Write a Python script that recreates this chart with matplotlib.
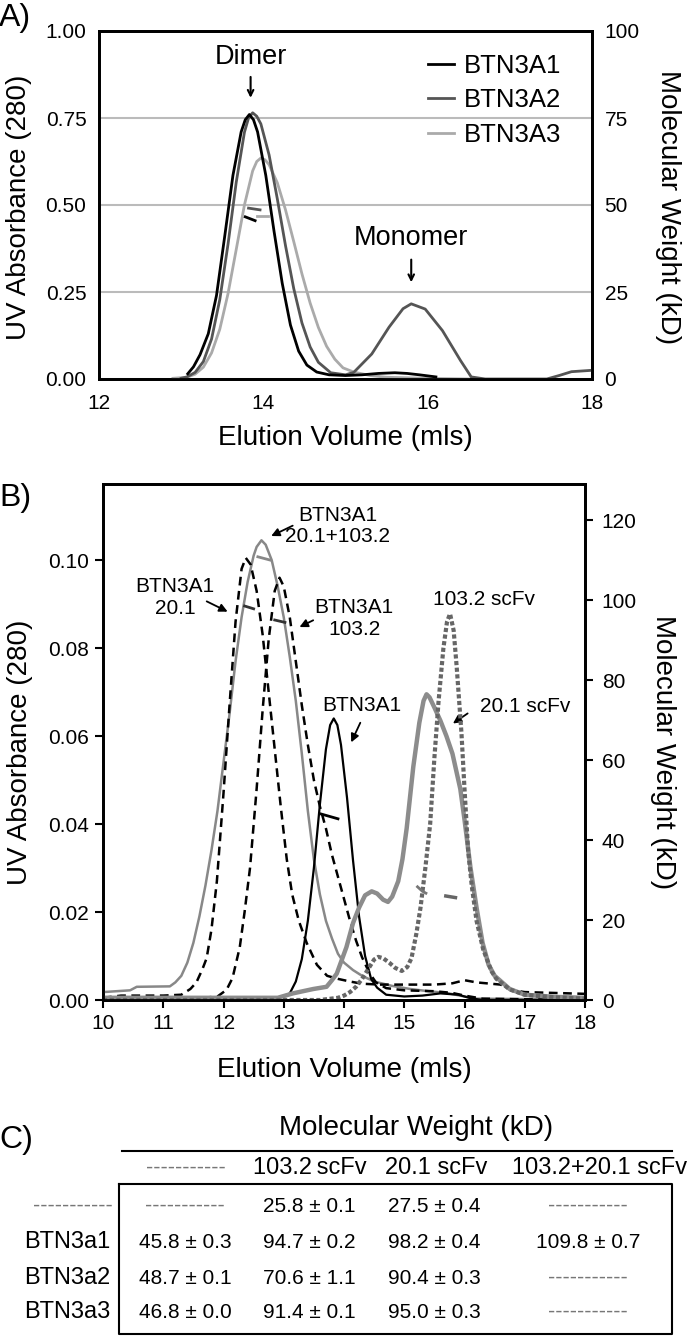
import matplotlib
matplotlib.use("Agg")
import matplotlib.pyplot as plt

plt.rcParams["font.family"] = ["Liberation Sans", "DejaVu Sans"]

# ---------------- panel A: BTN3A1/A2/A3 SEC traces ----------------
a1_vol = [13.08, 13.15, 13.23, 13.33, 13.43, 13.53, 13.63, 13.73, 13.78, 13.83, 13.88,
          13.93, 14.03, 14.13, 14.23, 14.33, 14.43, 14.53, 14.65, 14.8, 15.0, 15.2, 15.4,
          15.6, 15.75, 15.9, 16.1]
a1_abs = [0.015, 0.035, 0.07, 0.13, 0.24, 0.41, 0.585, 0.71, 0.745, 0.76, 0.745,
          0.71, 0.585, 0.425, 0.275, 0.155, 0.08, 0.04, 0.02, 0.012, 0.01, 0.012, 0.016,
          0.018, 0.016, 0.012, 0.006]

a2_vol = [13.0, 13.07, 13.17, 13.27, 13.37, 13.47, 13.57, 13.67, 13.77, 13.82, 13.87,
          13.92, 13.97, 14.07, 14.17, 14.27, 14.37, 14.47, 14.57, 14.67, 14.82, 15.0,
          15.1, 15.32, 15.53, 15.7, 15.8, 15.97, 16.18, 16.4, 16.53, 16.7, 17.45, 17.6,
          17.75, 18.0]
a2_abs = [0.002, 0.006, 0.019, 0.05, 0.115, 0.228, 0.387, 0.565, 0.709, 0.75, 0.765,
          0.755, 0.733, 0.644, 0.518, 0.383, 0.26, 0.161, 0.092, 0.048, 0.018, 0.012,
          0.019, 0.072, 0.149, 0.202, 0.216, 0.201, 0.139, 0.053, 0.006, 0.0, 0.0, 0.01,
          0.021, 0.025]

a3_vol = [12.9, 13.07, 13.17, 13.27, 13.37, 13.47, 13.57, 13.67, 13.77, 13.87, 13.92,
          13.97, 14.02, 14.07, 14.17, 14.27, 14.37, 14.47, 14.57, 14.67, 14.77, 14.87,
          14.97, 15.1, 15.3, 15.5, 16.0, 16.5]
a3_abs = [0.002, 0.005, 0.014, 0.034, 0.075, 0.143, 0.245, 0.372, 0.5, 0.598, 0.625,
          0.635, 0.63, 0.616, 0.564, 0.486, 0.395, 0.302, 0.218, 0.148, 0.094, 0.057,
          0.032, 0.02, 0.01, 0.005, 0.002, 0.0]

# molecular weight readout (kD) across the dimer peak
a1_mw_vol, a1_mw = [13.78, 13.90], [46.6, 45.5]
a2_mw_vol, a2_mw = [13.82, 13.96], [49.1, 48.6]
a3_mw_vol, a3_mw = [13.92, 14.06], [46.9, 46.9]

# ---------------- panel B: BTN3A1 with scFv fragments ----------------
b_a1_vol = [10.0, 12.9, 13.1, 13.2, 13.3, 13.4, 13.5, 13.6, 13.7, 13.77, 13.83, 13.89,
            13.95, 14.05, 14.15, 14.25, 14.35, 14.45, 14.55, 14.7, 15.0, 15.3, 15.6,
            15.9, 16.1, 16.3, 18.0]
b_a1_abs = [0.0003, 0.0003, 0.0015, 0.0042, 0.0093, 0.018, 0.03, 0.0445, 0.057, 0.0625,
            0.064, 0.0625, 0.058, 0.046, 0.0317, 0.019, 0.01, 0.0048, 0.0028, 0.0012,
            0.0008, 0.001, 0.0015, 0.0012, 0.0004, 0.0, 0.0]

b_201_vol = [10.0, 10.3, 11.0, 11.3, 11.45, 11.55, 11.65, 11.72, 11.8, 11.89, 12.0, 12.1,
             12.2, 12.3, 12.37, 12.45, 12.55, 12.65, 12.75, 12.85, 12.95, 13.05, 13.14,
             13.25, 13.38, 13.55, 13.72, 13.9, 14.1, 14.3, 14.6, 15.0, 15.5, 15.8, 16.0,
             16.2, 16.6, 16.8, 17.0, 18.0]
b_201_abs = [0.0005, 0.001, 0.001, 0.0012, 0.0025, 0.004, 0.007, 0.0095, 0.016, 0.027,
             0.047, 0.067, 0.086, 0.098, 0.1005, 0.099, 0.093, 0.083, 0.07, 0.057, 0.044,
             0.032, 0.024, 0.018, 0.013, 0.008, 0.0055, 0.0048, 0.0042, 0.0037, 0.0035,
             0.0035, 0.0035, 0.0038, 0.0045, 0.004, 0.0035, 0.0022, 0.0018, 0.0014]

b_1032_vol = [10.0, 11.5, 11.9, 12.05, 12.15, 12.27, 12.35, 12.44, 12.55, 12.65, 12.75,
              12.85, 12.93, 13.0, 13.1, 13.2, 13.3, 13.4, 13.5, 13.6, 13.7, 13.8, 13.9,
              14.0, 14.1, 14.2, 14.3, 14.42, 14.53, 14.7, 15.0, 15.5, 15.8, 16.0, 16.3, 18.0]
b_1032_abs = [0.0002, 0.0003, 0.0008, 0.0023, 0.005, 0.012, 0.02, 0.03, 0.048, 0.066,
              0.082, 0.093, 0.096, 0.094, 0.087, 0.077, 0.067, 0.058, 0.05, 0.044, 0.039,
              0.033, 0.028, 0.023, 0.018, 0.0135, 0.0097, 0.0062, 0.004, 0.0027, 0.0022,
              0.002, 0.0016, 0.001, 0.0003, 0.0]

b_both_vol = [10.0, 10.45, 10.56, 11.11, 11.2, 11.3, 11.4, 11.5, 11.6, 11.7, 11.8, 11.9,
              12.0, 12.1, 12.2, 12.3, 12.4, 12.5, 12.55, 12.63, 12.7, 12.8, 12.9, 13.0,
              13.1, 13.2, 13.3, 13.4, 13.5, 13.6, 13.7, 13.8, 13.9, 14.0, 14.15, 14.3,
              14.5, 14.8, 15.1, 15.4, 15.7, 16.0, 16.2, 18.0]
b_both_abs = [0.0018, 0.0022, 0.003, 0.0031, 0.004, 0.0055, 0.0085, 0.013, 0.019, 0.026,
              0.034, 0.043, 0.054, 0.065, 0.077, 0.087, 0.095, 0.101, 0.103, 0.1045,
              0.1035, 0.1, 0.094, 0.087, 0.078, 0.068, 0.056, 0.043, 0.032, 0.024, 0.018,
              0.014, 0.0105, 0.0085, 0.0068, 0.0055, 0.0042, 0.0032, 0.0025, 0.002,
              0.0016, 0.0008, 0.0003, 0.0001]

s201_vol = [10.0, 12.9, 13.15, 13.49, 13.71, 13.8, 13.88, 13.96, 14.04, 14.15, 14.25,
            14.35, 14.46, 14.55, 14.65, 14.73, 14.8, 14.9, 14.97, 15.04, 15.15, 15.25,
            15.32, 15.37, 15.42, 15.5, 15.6, 15.7, 15.8, 15.93, 16.0, 16.1, 16.2, 16.3,
            16.4, 16.5, 16.75, 17.0, 17.5, 18.0]
s201_abs = [0.0005, 0.0005, 0.0015, 0.0025, 0.003, 0.0045, 0.006, 0.009, 0.012, 0.0175,
            0.021, 0.0238, 0.0247, 0.0242, 0.0228, 0.0223, 0.0235, 0.027, 0.032, 0.039,
            0.053, 0.063, 0.068, 0.0695, 0.0688, 0.0665, 0.0635, 0.06, 0.056, 0.048,
            0.041, 0.03, 0.021, 0.013, 0.008, 0.0055, 0.0025, 0.0012, 0.0007, 0.0005]

s1032_vol = [10.0, 13.6, 13.9, 14.0, 14.1, 14.2, 14.3, 14.4, 14.5, 14.57, 14.65, 14.75,
             14.85, 14.96, 15.05, 15.12, 15.2, 15.27, 15.35, 15.43, 15.5, 15.57, 15.65,
             15.71, 15.76, 15.82, 15.87, 15.95, 16.0, 16.06, 16.12, 16.2, 16.31, 16.45,
             16.53, 16.75, 17.0, 17.5, 18.0]
s1032_abs = [0.0, 0.0, 0.0005, 0.001, 0.0018, 0.003, 0.0048, 0.007, 0.0092, 0.0098,
             0.0095, 0.0085, 0.0073, 0.0066, 0.0075, 0.0095, 0.015, 0.021, 0.03, 0.04,
             0.055, 0.068, 0.08, 0.086, 0.0878, 0.084, 0.0758, 0.0606, 0.048, 0.034,
             0.026, 0.018, 0.0115, 0.0065, 0.0048, 0.0024, 0.0012, 0.0006, 0.0003]

# molecular weight readouts (kD)
mw_a1_vol, mw_a1 = [13.62, 13.9], [46.5, 45.3]
mw_201_vol, mw_201 = [12.35, 12.5], [98.5, 97.8]
mw_1032_vol, mw_1032 = [12.85, 13.02], [95.0, 94.4]
mw_both_vol, mw_both = [12.57, 12.77], [110.8, 110.0]
mw_s1032_vol, mw_s1032 = [15.69, 15.85], [26.0, 25.6]
mw_s201_vol, mw_s201 = [15.22, 15.3, 15.36], [28.3, 27.2, 26.7]

# ---------------- panel C: table of MALS masses ----------------
col_names = ["-----------", "103.2\u2009scFv", "20.1 scFv", "103.2+20.1 scFv"]
row_names = ["-----------", "BTN3a1", "BTN3a2", "BTN3a3"]
mw_mean = [[None, 25.8, 27.5, None],
           [45.8, 94.7, 98.2, 109.8],
           [48.7, 70.6, 90.4, None],
           [46.8, 91.4, 95.0, None]]
mw_sd = [[None, 0.1, 0.4, None],
         [0.3, 0.2, 0.4, 0.7],
         [0.1, 1.1, 0.3, None],
         [0.0, 0.1, 0.3, None]]

W, H = 693, 1336
fig = plt.figure(figsize=(W / 100, H / 100), dpi=100)


def frac(l, r, t, b):
    return [l / W, 1 - b / H, (r - l) / W, (b - t) / H]


# overlay for panel letters and the table (pixel coordinates)
ov = fig.add_axes([0, 0, 1, 1])
ov.set_xlim(0, W)
ov.set_ylim(H, 0)
ov.axis("off")

# ---- panel A ----
axA = fig.add_axes(frac(99, 592, 31, 379))
axA.plot(a3_vol, a3_abs, color="#aaaaaa", lw=2, label="BTN3A3", zorder=3)
axA.plot(a2_vol, a2_abs, color="#555555", lw=2, label="BTN3A2", zorder=4)
axA.plot(a1_vol, a1_abs, color="black", lw=2, label="BTN3A1", zorder=5)
axA.set_xlim(12, 18)
axA.set_ylim(0, 1.0)
axA.set_xticks([12, 14, 16, 18])
axA.set_yticks([0, 0.25, 0.5, 0.75, 1.0])
axA.set_yticklabels(["0.00", "0.25", "0.50", "0.75", "1.00"])
axA.grid(axis="y", color="#bbbbbb", lw=1.5)
axA.set_axisbelow(True)
axA.tick_params(length=0, labelsize=15)
axA.tick_params(axis="x", pad=11)
axA.tick_params(axis="y", pad=9)
for s in axA.spines.values():
    s.set_linewidth(2)
axA.set_xlabel("Elution Volume (mls)", fontsize=20)
axA.xaxis.set_label_coords(0.5, -0.132)
axA.set_ylabel("UV Absorbance (280)", fontsize=20, va="center")
axA.yaxis.set_label_coords(-0.162, 0.493)

h, lab = axA.get_legend_handles_labels()
axA.legend(h[::-1], lab[::-1], loc="upper left", bbox_to_anchor=(0.668, 0.935),
           frameon=False, fontsize=18.5, handlelength=1.0, handletextpad=0.4,
           labelspacing=0.42, borderaxespad=0, borderpad=0)

axA.annotate("", xy=(13.845, 0.80), xytext=(13.845, 0.876),
             arrowprops=dict(arrowstyle="->", color="black", lw=1.5))
axA.text(13.845, 0.926, "Dimer", fontsize=19.5, ha="center", va="center")
axA.annotate("", xy=(15.8, 0.27), xytext=(15.8, 0.351),
             arrowprops=dict(arrowstyle="->", color="black", lw=1.5))
axA.text(15.8, 0.404, "Monomer", fontsize=19.5, ha="center", va="center")

axA2 = axA.twinx()
axA2.plot(a1_mw_vol, a1_mw, color="black", lw=2)
axA2.plot(a2_mw_vol, a2_mw, color="#555555", lw=2)
axA2.plot(a3_mw_vol, a3_mw, color="#aaaaaa", lw=2)
axA2.set_ylim(0, 100)
axA2.set_yticks([0, 25, 50, 75, 100])
axA2.tick_params(length=0, labelsize=15, pad=9)
for s in axA2.spines.values():
    s.set_linewidth(2)
axA2.set_ylabel("Molecular Weight (kD)", fontsize=20, rotation=270, va="center")
axA2.yaxis.set_label_coords(1.154, 0.493)

# ---- panel B ----
axB = fig.add_axes(frac(103, 585, 484, 1000))
axB.plot(b_both_vol, b_both_abs, color="#888888", lw=1.8, zorder=3)
axB.plot(b_201_vol, b_201_abs, color="black", lw=1.8, ls=(0, (3.5, 2.2)), zorder=4)
axB.plot(b_1032_vol, b_1032_abs, color="black", lw=1.8, ls=(0, (3.5, 2.2)), zorder=4)
axB.plot(b_a1_vol, b_a1_abs, color="black", lw=1.6, zorder=5)
axB.plot(s201_vol, s201_abs, color="#8c8c8c", lw=3.2, zorder=6)
axB.plot(s1032_vol, s1032_abs, color="#666666", lw=3.0, ls=(0, (1.0, 0.6)), zorder=7)
axB.set_xlim(10, 18)
axB.set_ylim(0, 0.1173)
axB.set_xticks(range(10, 19))
axB.set_yticks([0, 0.02, 0.04, 0.06, 0.08, 0.10])
axB.set_yticklabels(["0.00", "0.02", "0.04", "0.06", "0.08", "0.10"])
axB.tick_params(length=6, width=1.5, labelsize=15)
axB.tick_params(axis="x", pad=4)
axB.tick_params(axis="y", pad=4)
for s in axB.spines.values():
    s.set_linewidth(2)
axB.set_xlabel("Elution Volume (mls)", fontsize=20)
axB.xaxis.set_label_coords(0.5, -0.11)
axB.set_ylabel("UV Absorbance (280)", fontsize=20, va="center")
axB.yaxis.set_label_coords(-0.172, 0.48)

arrow_b = dict(arrowstyle="-|>", color="black", lw=1.3, mutation_scale=12)
axB.annotate("", xy=(12.75, 0.1052), xytext=(13.19, 0.1081), arrowprops=arrow_b)
axB.text(13.9, 0.1078, "BTN3A1\n20.1+103.2", fontsize=15, ha="center", va="center",
         linespacing=1.15)
axB.annotate("", xy=(12.11, 0.088), xytext=(11.68, 0.0909), arrowprops=arrow_b)
axB.text(11.2, 0.0915, "BTN3A1\n20.1", fontsize=15, ha="center", va="center",
         linespacing=1.15)
axB.annotate("", xy=(13.22, 0.0845), xytext=(13.53, 0.0866), arrowprops=arrow_b)
axB.text(14.17, 0.0867, "BTN3A1\n103.2", fontsize=15, ha="center", va="center",
         linespacing=1.15)
axB.text(16.33, 0.0911, "103.2 scFv", fontsize=15, ha="center", va="center")
axB.text(14.29, 0.0670, "BTN3A1", fontsize=15, ha="center", va="center")
axB.annotate("", xy=(14.1, 0.058), xytext=(14.29, 0.0636), arrowprops=arrow_b)
axB.text(17.0, 0.0668, "20.1 scFv", fontsize=15, ha="center", va="center")
axB.annotate("", xy=(15.77, 0.0625), xytext=(16.09, 0.0655), arrowprops=arrow_b)

axB2 = axB.twinx()
axB2.plot(mw_a1_vol, mw_a1, color="black", lw=2)
axB2.plot(mw_201_vol, mw_201, color="#333333", lw=2)
axB2.plot(mw_1032_vol, mw_1032, color="#333333", lw=2)
axB2.plot(mw_both_vol, mw_both, color="#888888", lw=2)
axB2.plot(mw_s1032_vol, mw_s1032, color="#666666", lw=2.5)
axB2.plot(mw_s201_vol, mw_s201, color="#777777", lw=2)
axB2.set_ylim(0, 129)
axB2.set_yticks(range(0, 121, 20))
axB2.tick_params(length=6, width=1.5, labelsize=15, pad=6)
for s in axB2.spines.values():
    s.set_linewidth(2)
axB2.set_ylabel("Molecular Weight (kD)", fontsize=20, rotation=270, va="center")
axB2.yaxis.set_label_coords(1.162, 0.48)

# ---- panel letters ----
ov.text(-1, 18, "A)", fontsize=23, ha="left", va="center")
ov.text(-1, 498, "B)", fontsize=23, ha="left", va="center")
ov.text(-1, 1140, "C)", fontsize=23, ha="left", va="center")

# ---- panel C table ----
col_x = [186, 310, 436, 600]
cell_x = [185, 309, 434, 588]
row_y = [1206, 1242, 1278, 1312]
dash_kw = dict(fontsize=15.5, color="#777777", ha="center", va="center")

ov.text(416, 1128, "Molecular Weight (kD)", fontsize=20, ha="center", va="center")
ov.plot([122, 672], [1151, 1151], color="black", lw=1.5)
for i, name in enumerate(col_names):
    if name.startswith("-"):
        ov.text(col_x[i], 1168, name, **dash_kw)
    else:
        ov.text(col_x[i], 1168, name, fontsize=17, ha="center", va="center")
ov.plot([119, 672, 672, 119, 119], [1184, 1184, 1334, 1334, 1184], color="black", lw=1.5)

for r, name in enumerate(row_names):
    if name.startswith("-"):
        ov.text(113, row_y[r], name, fontsize=15.5, color="#777777", ha="right",
                va="center")
    else:
        ov.text(110, row_y[r], name, fontsize=17, ha="right", va="center")
    for c in range(4):
        m, sd = mw_mean[r][c], mw_sd[r][c]
        if m is None:
            ov.text(cell_x[c], row_y[r], "-----------", **dash_kw)
        else:
            ov.text(cell_x[c], row_y[r], f"{m:.1f} \u00b1 {sd:.1f}", fontsize=15,
                    ha="center", va="center")

fig.savefig("out.png", dpi=100)
